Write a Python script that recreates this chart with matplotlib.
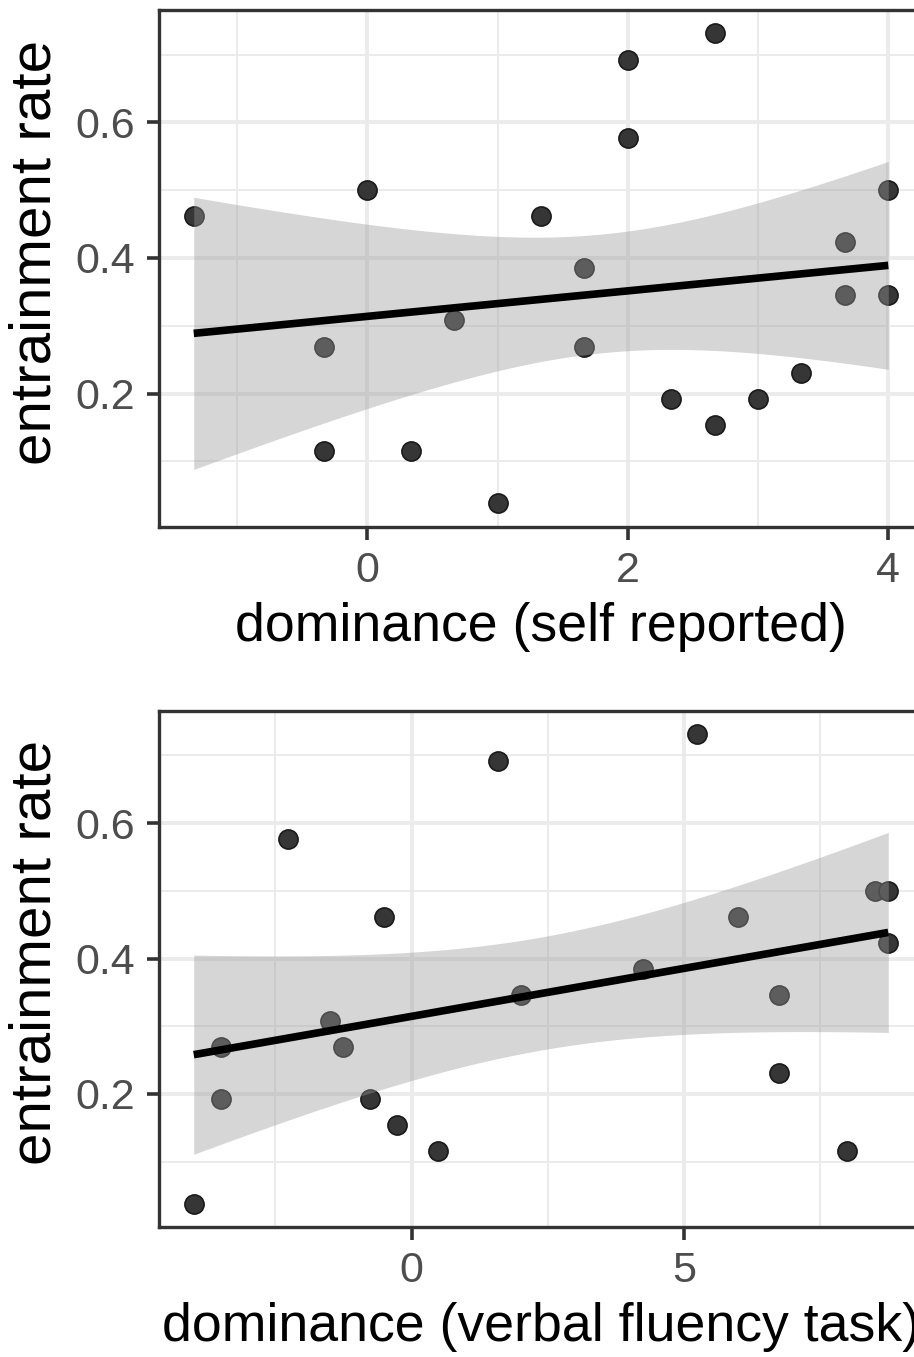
import numpy as np
import matplotlib
matplotlib.use('Agg')
import matplotlib.pyplot as plt

# entrainment rate per speaker, shared by both panels
entrainment = [0.462, 0.500, 0.269, 0.115, 0.115, 0.308, 0.038, 0.462, 0.385, 0.269, 0.692,
               0.577, 0.192, 0.731, 0.154, 0.192, 0.231, 0.423, 0.346, 0.500, 0.346]
dom_self = [-1.333, 0.0, -0.333, -0.333, 0.333, 0.667, 1.0, 1.333, 1.667, 1.667, 2.0,
            2.0, 2.333, 2.667, 2.667, 3.0, 3.333, 3.667, 3.667, 4.0, 4.0]

entrainment_vf = [0.038, 0.269, 0.192, 0.577, 0.308, 0.269, 0.192, 0.462, 0.154, 0.115, 0.692,
                  0.346, 0.385, 0.731, 0.462, 0.346, 0.231, 0.115, 0.500, 0.500, 0.423]
dom_verbal = [-4.0, -3.5, -3.5, -2.27, -1.5, -1.26, -0.77, -0.5, -0.27, 0.49, 1.58,
              2.0, 4.24, 5.23, 6.0, 6.75, 6.75, 8.0, 8.5, 8.75, 8.75]

T_975 = 2.093  # t quantile, 19 df

plt.rcParams['font.family'] = ['Liberation Sans', 'DejaVu Sans']

W, H = 914, 1357
fig = plt.figure(figsize=(W / 100, H / 100), dpi=100)


def expand(v, frac=0.05):
    lo, hi = min(v), max(v)
    pad = (hi - lo) * frac
    return lo - pad, hi + pad


def panel(top_px, bottom_px, x, y, xlabel, xticks, xminor):
    left_px, width_px = 159, 764
    ax = fig.add_axes([left_px / W, 1 - bottom_px / H, width_px / W, (bottom_px - top_px) / H])
    x = np.asarray(x, float)
    y = np.asarray(y, float)

    ax.scatter(x, y, s=190, color='#363636', edgecolors='#1a1a1a', linewidths=1.2, zorder=3)

    # linear fit with 95% confidence band
    b, a = np.polyfit(x, y, 1)
    n = len(x)
    resid = y - (a + b * x)
    s = np.sqrt(np.sum(resid ** 2) / (n - 2))
    xs = np.linspace(x.min(), x.max(), 200)
    fit = a + b * xs
    se = s * np.sqrt(1 / n + (xs - x.mean()) ** 2 / np.sum((x - x.mean()) ** 2))
    ax.fill_between(xs, fit - T_975 * se, fit + T_975 * se, color='#999999', alpha=0.4,
                    linewidth=0, zorder=4)
    ax.plot(xs, fit, color='black', linewidth=5.5, zorder=5, solid_capstyle='butt')

    ax.set_xlim(*expand(x))
    ax.set_ylim(*expand(y))
    ax.set_xticks(xticks)
    ax.set_xticks(xminor, minor=True)
    ax.set_yticks([0.2, 0.4, 0.6])
    ax.set_yticks([0.1, 0.3, 0.5, 0.7], minor=True)
    ax.grid(True, which='major', color='#EBEBEB', linewidth=2.8, zorder=0)
    ax.grid(True, which='minor', color='#EBEBEB', linewidth=1.4, zorder=0)
    ax.set_axisbelow(True)
    ax.tick_params(which='major', length=9, width=2.6, color='#333333', labelsize=31,
                   labelcolor='#4D4D4D', pad=8)
    ax.tick_params(which='minor', length=0)
    for sp in ax.spines.values():
        sp.set_color('#333333')
        sp.set_linewidth(2.4)
    ax.set_xlabel(xlabel, fontsize=38.6, labelpad=8)
    ax.set_ylabel('entrainment rate', fontsize=42)
    ax.yaxis.set_label_coords(-0.126, 0.532)
    return ax


panel(10, 527, dom_self, entrainment, 'dominance (self reported)', [0, 2, 4], [-1, 1, 3])
panel(711, 1227, dom_verbal, entrainment_vf, 'dominance (verbal fluency task)',
      [0, 5], [-2.5, 2.5, 7.5])

fig.savefig('out.png', dpi=100)
